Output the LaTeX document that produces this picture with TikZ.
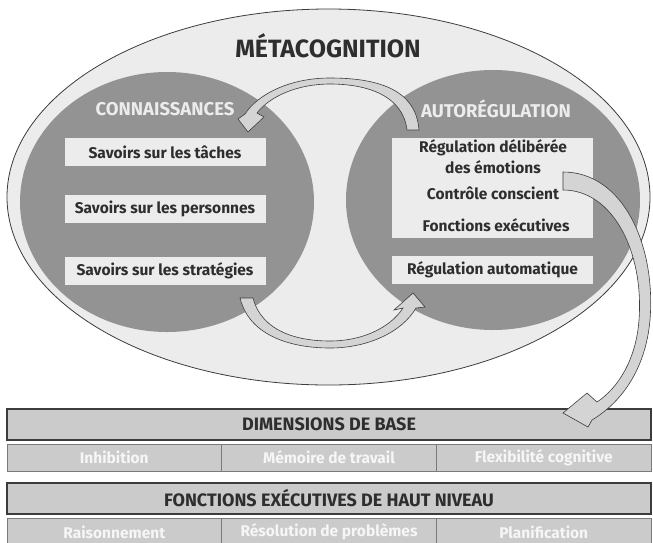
\documentclass[tikz,border=0pt]{standalone}
\usepackage{fontspec}
\setmainfont{Fira Sans}
\usetikzlibrary{shapes.geometric,positioning}
\definecolor{paper}{HTML}{ECECEC}
\definecolor{disc}{HTML}{939393}
\definecolor{ink}{HTML}{2E2E2E}
\definecolor{rim}{HTML}{3C3C3C}
\definecolor{band}{HTML}{D4D4D4}
\definecolor{strip}{HTML}{CBCBCB}
\definecolor{seam}{HTML}{7A7A7A}
\definecolor{soft}{HTML}{F6F6F6}
\newcommand{\fs}[1]{\bfseries\fontsize{#1}{#1}\selectfont}
\tikzstyle{every node}=[inner sep=0pt,outer sep=0pt]
\tikzstyle{lobe}=[ellipse,fill=disc,minimum width=294pt,minimum height=260pt]
\tikzstyle{lobetitle}=[text=paper,font=\fs{18.5}]
\tikzstyle{itembox}=[fill=paper,minimum width=201pt,minimum height=28pt,text=ink,font=\fs{15.5}]
\tikzstyle{itemline}=[text=ink,font=\fs{15.5}]
\tikzstyle{bar}=[draw=rim,line width=1.5pt,fill=strip,minimum width=644pt,minimum height=31pt,text=ink,font=\fs{18}]
\tikzstyle{cell}=[draw=seam,line width=0.9pt,fill=strip,minimum width=214.7pt,minimum height=27pt,text=soft,font=\fs{15.5}]
\tikzstyle{curlarrow}=[fill=band,draw=rim,line width=0.6pt]

\begin{document}
\begin{tikzpicture}[x=1pt,y=-1pt]
\useasboundingbox (0,0) rectangle (653,542);

\node[ellipse,draw=rim,line width=0.8pt,fill=paper,minimum width=643pt,minimum height=376pt] (meta) at (328.5,197) {};
\node[text=ink,font=\fs{25}] (metatitle) at (328,46) {MÉTACOGNITION};

\node[lobe] (conn) at (167,202) {};
\node[lobe] (auto) at (493,200) {};
\node[lobetitle] (conntitle) at (165,109) {CONNAISSANCES};
\node[lobetitle] (autotitle) at (496,109) {AUTORÉGULATION};

\node[itembox] (taches) at (165,152) {Savoirs sur les tâches};
\node[itembox] (personnes) at (165,209) {Savoirs sur les personnes};
\node[itembox] (strategies) at (165,270.5) {Savoirs sur les stratégies};

\node[itembox,minimum height=100pt] (deliberee) at (492.5,188) {};
\node[itemline] (emo1) at (493,148) {Régulation délibérée};
\node[itemline] (emo2) at (493,167) {des émotions};
\node[itemline] (controle) at (493,193) {Contrôle conscient};
\node[itemline] (fonctions) at (496,225) {Fonctions exécutives};
\node[itembox] (automatique) at (492.5,270) {Régulation automatique};

\filldraw[curlarrow] (419,130) .. controls (416,88) and (375,78) .. (330,78) .. controls (290,78) and (258,94) .. (245,114) -- (238,119) -- (248,132) -- (264,117) -- (257,113) .. controls (270,96) and (298,84) .. (330,84) .. controls (368,84) and (403,96) .. (407,130) -- cycle;
\filldraw[curlarrow] (240,298) .. controls (250,338) and (295,348) .. (330,348) .. controls (368,348) and (402,332) .. (416,308) -- (425,307) -- (413,293) -- (394,310) -- (403,308) .. controls (390,328) and (362,341) .. (330,341) .. controls (298,341) and (262,332) .. (253,298) -- cycle;

\node[bar] (base) at (329,424.5) {DIMENSIONS DE BASE};
\node[cell] (inhib) at (114.3,457.5) {Inhibition};
\node[cell,right=0pt of inhib] (memoire) {Mémoire de travail};
\node[cell,right=0pt of memoire] (flex) {Flexibilité cognitive};

\node[bar] (haut) at (329,498.5) {FONCTIONS EXÉCUTIVES DE HAUT NIVEAU};
\node[cell] (raison) at (114.3,532) {Raisonnement};
\node[cell,right=0pt of raison] (resol) {Résolution de problèmes};
\node[cell,right=0pt of resol] (planif) {Planification};

\filldraw[curlarrow] (563,172) .. controls (623,172) and (656,245) .. (650,320) .. controls (646,365) and (625,400) .. (592,420) -- (588,427) -- (563,413) -- (587,393) -- (597,402) .. controls (618,388) and (636,360) .. (639,320) .. controls (644,252) and (613,190) .. (563,190) -- cycle;
\end{tikzpicture}
\end{document}
